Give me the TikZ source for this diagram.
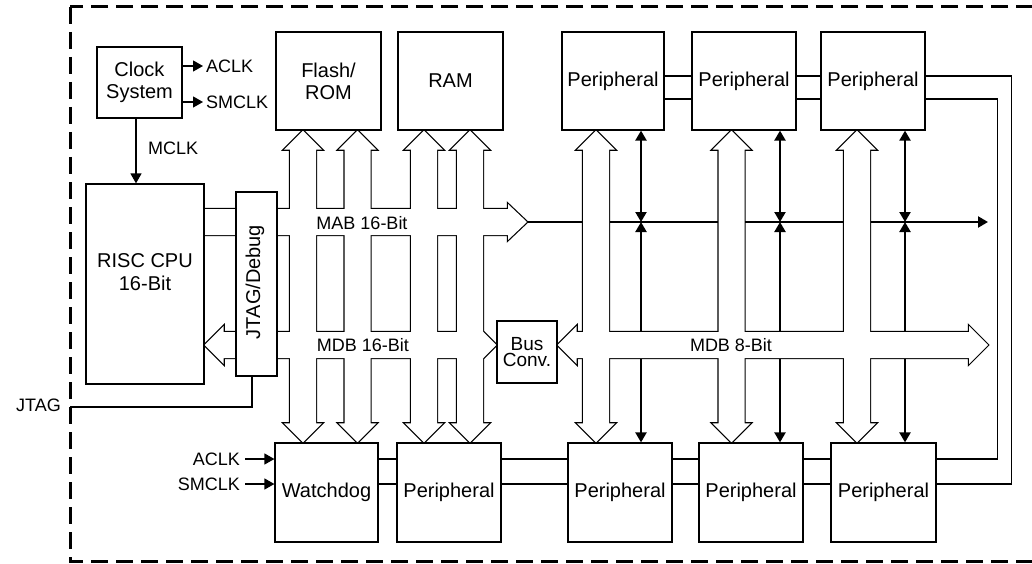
\documentclass[tikz,border=0pt]{standalone}
\usepackage{fontspec}
\setmainfont{Liberation Sans}
\usetikzlibrary{arrows.meta}

\pgfdeclarelayer{wires}
\pgfdeclarelayer{busline}
\pgfdeclarelayer{busfill}
\pgfsetlayers{wires,busline,busfill,main}

\tikzset{
  box/.style={draw, fill=white, line width=1.2pt, inner sep=0pt, align=center,
    font=\fontsize{20}{22}\selectfont},
  txt/.style={inner sep=0pt, align=center, font=\fontsize{20}{23}\selectfont},
  lbl/.style={inner sep=3pt, font=\fontsize{18}{20}\selectfont},
  busedge/.style={draw, line width=2.4pt},
  busface/.style={fill=white},
  wire/.style={line width=2.2pt},
  sig/.style={line width=1.3pt},
  link/.style={line width=1.2pt},
  border/.style={line width=3pt, dash pattern=on 17pt off 8pt}
}

% vertical bus, heads at both ends
\newcommand{\vbusshape}[3]{%
  \path[#1] (#2) -- ++(19,19) -- ++(-6,0) -- ([shift={(13,-19)}]#3) -- ++(6,0)
    -- (#3) -- ++(-19,-19) -- ++(6,0) -- ([shift={(-13,19)}]#2) -- ++(-6,0) -- cycle;}
% horizontal bus, heads at both ends
\newcommand{\hbusshape}[3]{%
  \path[#1] (#2) -- ++(19,-19) -- ++(0,6) -- ([shift={(-19,-13)}]#3) -- ++(0,-6)
    -- (#3) -- ++(-19,19) -- ++(0,-6) -- ([shift={(19,13)}]#2) -- ++(0,6) -- cycle;}
% all buses in one style
\newcommand{\drawbuses}[1]{%
  \foreach \src/\dst/\dx in {flash/wdog/-25.5, flash/wdog/29, ram/b1/-26.5, ram/b1/19.5,
      p1/b2/-17, p2/b3/-12.5, p3/b4/-16} {
    \coordinate (bt) at ([xshift=\dx]\src.south);
    \coordinate (bb) at (bt |- \dst.north);
    \vbusshape{#1}{bt}{bb}
  }
  \path[#1] ([shift={(0,-13)}]mabl) -- ([shift={(-19,-13)}]mabtip) -- ++(0,-5)
    -- (mabtip) -- ++(-19,18) -- ++(0,-5) -- ([shift={(0,13)}]mabl) -- cycle;
  \hbusshape{#1}{mdbl}{mdbm}
  \hbusshape{#1}{mdbn}{mdbr}
}

\begin{document}
\begin{tikzpicture}[x=1pt, y=-1pt, >={Triangle[length=10pt,width=11pt]}]
  \useasboundingbox (0,0) rectangle (1032,564);

  % frame
  \begin{scope}
    \clip (0,0) rectangle (1032,564);
    \draw[border] (70,7) rectangle (1060,561);
  \end{scope}

  % blocks
  \node[box, minimum width=85, minimum height=71] (clk) at (139.5,82.5) {Clock\\System};
  \node[box, minimum width=118, minimum height=200] (cpu) at (145,284) {};
  \node[txt] (cputxt) at (145,272) {RISC CPU\\16-Bit};
  \node[box, minimum width=41, minimum height=184] (jtag) at (256.5,284) {};
  \node[txt, rotate=90] (jtagtxt) at (255,282) {JTAG/Debug};
  \node[box, minimum width=105, minimum height=98] (flash) at (328.5,81) {Flash/\\ROM};
  \node[box, minimum width=105, minimum height=98] (ram) at (450.5,81) {RAM};
  \foreach \n/\x/\w in {p1/613/102, p2/744/104, p3/873/104}
    \node[box, minimum width=\w, minimum height=98] (\n) at (\x,81) {Peripheral};
  \node[box, minimum width=103, minimum height=99] (wdog) at (326.5,492.5) {Watchdog};
  \foreach \n/\x/\w in {b1/449/104, b2/620/104, b3/751/104, b4/883.5/105}
    \node[box, minimum width=\w, minimum height=99] (\n) at (\x,492.5) {Peripheral};
  \node[box, minimum width=60, minimum height=62, font=\fontsize{19}{16}\selectfont]
    (conv) at (527,352) {Bus\\Conv.};

  % bus ends
  \coordinate (mabl) at ([yshift=62]cpu.east);
  \coordinate (mabtip) at (conv.north |- mabl);
  \coordinate (mabend) at (988,222);
  \coordinate (mdbl) at ([yshift=-61]cpu.east);
  \coordinate (mdbm) at (conv.west |- mdbl);
  \coordinate (mdbn) at (conv.east |- mdbl);
  \coordinate (mdbr) at (mabend |- mdbl);

  % buses: outline, then white inside
  \begin{pgfonlayer}{busline}
    \drawbuses{busedge}
  \end{pgfonlayer}
  \begin{pgfonlayer}{busfill}
    \drawbuses{busface}
  \end{pgfonlayer}

  % bus labels
  \node[lbl] (mab) at (362,223) {MAB 16-Bit};
  \node[lbl] (mdb16) at (363,345) {MDB 16-Bit};
  \node[lbl] (mdb8) at (731,345) {MDB 8-Bit};

  % 8-bit address lines
  \begin{pgfonlayer}{wires}
    \draw[wire, ->] (mabtip) -- (mabend);
    \foreach \up/\dn/\dx in {p1/b2/28, p2/b3/36, p3/b4/32} {
      \coordinate (wu) at ([xshift=\dx]\up.south);
      \coordinate (wm) at (wu |- mabl);
      \coordinate (wd) at (wu |- \dn.north);
      \draw[wire, <->] (wu) -- (wm);
      \draw[wire, <->] (wm) -- (wd);
    }
  \end{pgfonlayer}

  % clocks
  \node[lbl, anchor=west] (aclk) at (203,66) {ACLK};
  \node[lbl, anchor=west] (smclk) at (203,102) {SMCLK};
  \draw[sig, ->] (clk.east |- aclk) -- (aclk.west);
  \draw[sig, ->] (clk.east |- smclk) -- (smclk.west);
  \node[lbl, anchor=west] (mclk) at (145,148) {MCLK};
  \draw[sig, ->] ([xshift=-3.5]clk.south) -- ([xshift=-9]cpu.north);
  \node[lbl, anchor=east, inner sep=5pt] (waclk) at (245,459) {ACLK};
  \node[lbl, anchor=east, inner sep=5pt] (wsmclk) at (245,484) {SMCLK};
  \draw[sig, ->] (waclk.east) -- (wdog.west |- waclk);
  \draw[sig, ->] (wsmclk.east) -- (wdog.west |- wsmclk);

  % JTAG pin
  \node[lbl, anchor=east] (jtagpin) at (64,405) {JTAG};
  \coordinate (jtagin) at (70,407);
  \draw[wire] (jtagin) -| ([xshift=-4.5]jtag.south);

  % peripheral chain
  \foreach \a/\b in {p1/p2, p2/p3} {
    \draw[link] ([yshift=5]\a.east) -- ([yshift=5]\b.west);
    \draw[link] ([yshift=-18]\a.east) -- ([yshift=-18]\b.west);
  }
  \foreach \a/\b in {wdog/b1, b1/b2, b2/b3, b3/b4} {
    \draw[link] ([yshift=33.5]\a.east) -- ([yshift=33.5]\b.west);
    \draw[link] ([yshift=8.5]\a.east) -- ([yshift=8.5]\b.west);
  }
  \draw[link] ([yshift=5]p3.east) -- ++(86,0) |- ([yshift=8.5]b4.east);
  \draw[link] ([yshift=-18]p3.east) -- ++(72,0) |- ([yshift=33.5]b4.east);

\end{tikzpicture}
\end{document}
